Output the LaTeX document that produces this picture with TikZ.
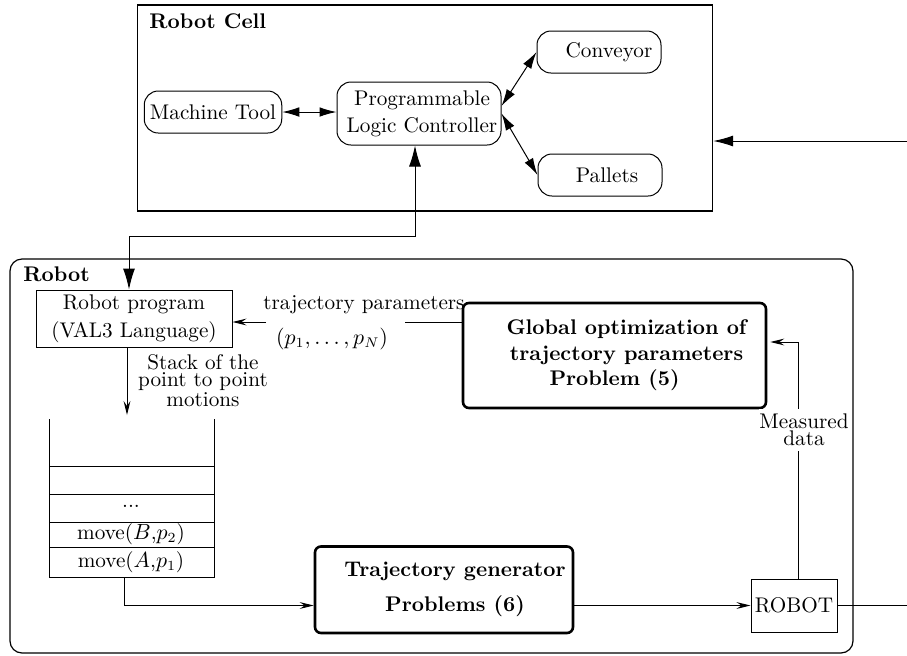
\documentclass[tikz,border=0pt]{standalone}
\usepackage{fontspec}
\usetikzlibrary{arrows.meta,calc}
\begin{document}
\begin{tikzpicture}[x=0.5pt,y=-0.5pt,
  every node/.style={font=\fontsize{10.6}{12.7}\selectfont},
  conn/.style={line width=0.5pt},
  bigarr/.style={<->, >={Latex[length=8.5pt,width=4.8pt]}},
  bigarrb/.style={<->, >={Latex[length=10.5pt,width=6pt]}},
  bigone/.style={->, >={Latex[length=10pt,width=5.5pt]}},
  smallarr/.style={->, >={Stealth[length=7pt,width=3.4pt,inset=2.5pt]}},
  rbox/.style={draw, rounded corners=7pt, line width=0.5pt, minimum width=62pt, minimum height=21pt, inner sep=0pt},
  thickbox/.style={draw, rounded corners=3pt, line width=1.3pt, align=center, inner sep=0pt},
  sqbox/.style={draw, line width=0.5pt, inner sep=0pt, align=center},
  lbl/.style={anchor=west, inner sep=0pt, font=\fontsize{10.6}{12.7}\selectfont\bfseries}
]
\useasboundingbox (0,0) rectangle (907,655);

% Robot cell
\node[sqbox, line width=0.7pt, minimum width=287.5pt, minimum height=103pt] (cell) at (425,108) {};
\node[lbl] (celllbl) at (149,21) {Robot Cell};
\node[rbox, minimum width=68.75pt] (mt) at (213,112) {Machine Tool};
\node[rbox, minimum width=82pt, minimum height=31.5pt, align=center, font=\fontsize{10.6}{13.5}\selectfont] (plc) at (419,113.5) {\hspace*{3pt}Programmable\\\hspace*{3pt}Logic Controller};
\node[rbox] (conv) at (599,52) {\hspace*{10pt}Conveyor};
\node[rbox] (pal) at (600,175) {\hspace*{7pt}Pallets};

\draw[conn,bigarr] (mt.east) -- (mt.east -| plc.west);
\draw[conn,bigarr] ($(plc.east)+(0,-7.5)$) -- (conv.west);
\draw[conn,bigarr] (plc.east) -- (pal.west);

\coordinate (rin) at (907,141);
\draw[conn,bigone] (rin) -- (rin -| cell.east);

% Robot
\node[draw, rounded corners=6pt, line width=0.6pt, minimum width=421.5pt, minimum height=197pt, inner sep=0pt] (robotbox) at (431.5,456) {};
\node[lbl] (robotlbl) at (23,274) {Robot};

\node[sqbox, minimum width=98pt, minimum height=28.5pt, font=\fontsize{10.6}{14}\selectfont] (prog) at (134,318.5) {Robot program\\(VAL3 Language)};

\coordinate (bend) at (415,236);
\coordinate (progin) at (129,0);
\draw[conn,bigarrb] (bend |- plc.south) -- (bend) -| (progin |- prog.north);

\node[thickbox, minimum width=151.5pt, minimum height=52.5pt, font=\fontsize{10.6}{12.75}\selectfont\bfseries] (glob) at (614.5,355.5) {\hspace*{12pt}Global optimization of\\\hspace*{12pt}trajectory parameters\\Problem (5)};

\node[thickbox, minimum width=129pt, minimum height=43.25pt, font=\fontsize{10.6}{17.5}\selectfont\bfseries] (traj) at (444,589.75) {\hspace*{11pt}Trajectory generator\\\hspace*{11pt}Problems (6)};

\node[sqbox, minimum width=43pt, minimum height=26.5pt] (robot) at (794,605.5) {ROBOT};

% trajectory parameters
\node (tp) at (364,305) {trajectory parameters};
\node (pp) at (332,339) {$(p_1,\ldots,p_N)$};
\coordinate (tpR) at (405,322);
\coordinate (tpL) at (266,322);
\draw[conn] (glob.west |- tpR) -- (tpR);
\draw[conn,smallarr] (tpL) -- (tpL -| prog.east);

% stack
\coordinate (stacktop) at (127,415);
\draw[conn,smallarr] (stacktop |- prog.south) -- (stacktop);
\node[align=center, font=\fontsize{10.6}{8.5}\selectfont] (stacklbl) at (203,381) {Stack of the\\point to point\\motions};

\draw[conn] (49,419) -- (49,577) -- (214,577) -- (214,419);
\foreach \yy in {466,494,522,547} \draw[conn] (49,\yy) -- (214,\yy);
\node (dots) at (131,506) {...};
\node (mB) at (131,534) {move($B$,$p_2$)};
\node (mA) at (131,562) {move($A$,$p_1$)};

\coordinate (stackbot) at (124,577);
\draw[conn,smallarr] (stackbot) |- (traj.west |- robot.west);
\draw[conn,smallarr] (traj.east |- robot.west) -- (robot.west);
\coordinate (rout) at (907,605.5);
\draw[conn] (robot.east) -- (rout);

% measured data
\coordinate (mtop) at (798,342);
\draw[conn,smallarr,shorten >=1.5pt] (mtop |- robot.north) -- (mtop) -- (glob.east |- mtop);
\node[fill=white, align=center, font=\fontsize{10.6}{8.5}\selectfont, inner xsep=0.3pt, inner ysep=2.5pt] (meas) at (804,430) {Measured\\data};
\end{tikzpicture}
\end{document}
